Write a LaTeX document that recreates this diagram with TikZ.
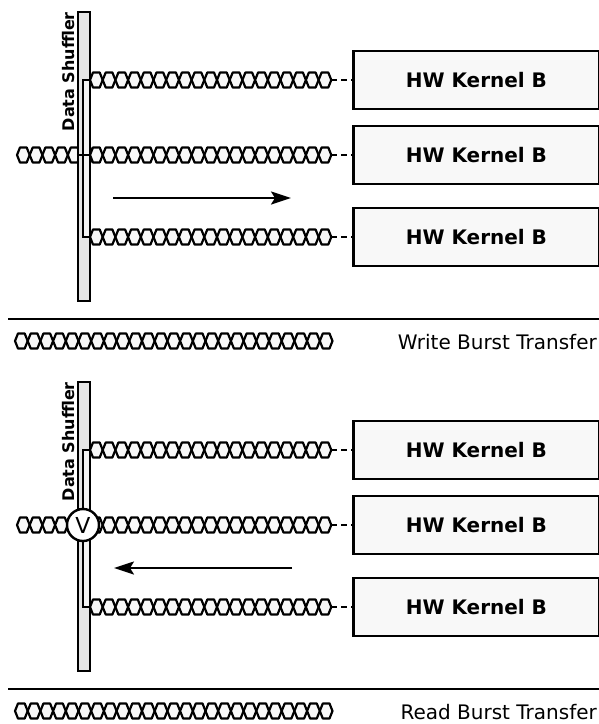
\documentclass[tikz,border=0pt]{standalone}
\usepackage{fontspec}
\setmainfont{DejaVu Sans}
\usetikzlibrary{arrows.meta}

\definecolor{cellfill}{HTML}{F8F8F8}
\definecolor{barfill}{HTML}{E6E6E6}

\tikzset{
  hexcell/.style={draw=black, fill=cellfill, line width=2.2pt, line join=round},
  shufbar/.style={draw=black, fill=barfill, line width=2.5pt, minimum width=12pt, minimum height=289pt, inner sep=0pt},
  portline/.style={draw=black, fill=white!60!barfill, line width=1.4pt},
  kernel/.style={draw=black, fill=cellfill, line width=2.8pt, minimum width=246pt, minimum height=58pt,
                 font=\bfseries\fontsize{20}{24}\selectfont},
  link/.style={line width=2.4pt, dash pattern=on 6pt off 4pt},
  flow/.style={line width=2.2pt, -{Stealth[length=20pt, width=13pt, inset=4pt]}},
  sepline/.style={line width=2.8pt},
  legend/.style={font=\fontsize{20}{24}\selectfont, inner sep=0pt, anchor=base east},
  shuflabel/.style={font=\bfseries\fontsize{16}{19}\selectfont, inner sep=0pt, rotate=90, anchor=east},
  orgate/.style={circle, draw=black, fill=white, line width=2.4pt, minimum size=32pt, inner sep=0pt,
                 font=\fontsize{22}{24}\selectfont}
}

% hexagon chain: #1 start x, #2 row y, #3 number of cells, #4 name of end coordinate
\newcommand{\hexchain}[4]{%
  \foreach \k in {1,...,#3} {
    \pgfmathsetmacro{\xa}{#1 + (\k-1)*\HexW}
    \draw[hexcell] (\xa,#2) -- ({\xa+\HexTip},{#2-\HexH/2}) -- ({\xa+\HexW-\HexTip},{#2-\HexH/2})
      -- ({\xa+\HexW},#2) -- ({\xa+\HexW-\HexTip},{#2+\HexH/2}) -- ({\xa+\HexTip},{#2+\HexH/2}) -- cycle;
  }
  \coordinate (#4) at ({#1 + #3*\HexW}, #2);
}

\begin{document}
\begin{tikzpicture}[x=1pt, y=-1pt]

  % =======================================================
  % PARAMETERS
  % =======================================================
  \def\HexW{12.7}   % pitch of one burst cell
  \def\HexH{15}     % height of one burst cell
  \def\HexTip{3}    % depth of the pointed ends
  \def\RowA{80}     % kernel rows
  \def\RowB{155}
  \def\RowC{237}

  \useasboundingbox (0,0) rectangle (599,724);

  % =======================================================
  % 1. Write Burst
  % =======================================================
  \begin{scope}
      % incoming burst, behind the shuffler
      \hexchain{17}{\RowB}{6}{wleft}

      \node[shufbar] (wbar) at (84,156.5) {};
      \node[shuflabel] (wlabel) at (68.5,12) {Data Shuffler};
      \draw[portline] (83,\RowA) rectangle (90,\RowC);
      \draw[line width=1.8pt] (wbar.west |- wleft) -- (wbar.east |- wleft);

      % kernels
      \node[kernel, anchor=west] (kw1) at (352,\RowA) {HW Kernel B};
      \node[kernel, anchor=west] (kw2) at (352,\RowB) {HW Kernel B};
      \node[kernel, anchor=west] (kw3) at (352,\RowC) {HW Kernel B};

      % bursts towards the kernels
      \hexchain{90}{\RowA}{19}{w1end}
      \hexchain{90}{\RowB}{19}{w2end}
      \hexchain{90}{\RowC}{19}{w3end}
      \draw[link] (w1end) -- (kw1.west);
      \draw[link] (w2end) -- (kw2.west);
      \draw[link] (w3end) -- (kw3.west);

      \coordinate (wfrom) at (113,198);
      \coordinate (wto) at (291,198);
      \draw[flow] (wfrom) -- (wto);

      % legend
      \draw[sepline] (8,319) -- (599,319);
      \hexchain{15}{341}{25}{wleg}
      \node[legend] (wtext) at (597,349) {Write Burst Transfer};
  \end{scope}

  % =======================================================
  % 2. Read Burst
  % =======================================================
  \begin{scope}[shift={(0,370)}]
      \hexchain{17}{\RowB}{6}{rleft}

      \node[shufbar] (rbar) at (84,156.5) {};
      \node[shuflabel] (rlabel) at (68.5,12) {Data Shuffler};
      \draw[portline] (83,\RowA) rectangle (90,\RowC);

      \node[kernel, anchor=west] (kr1) at (352,\RowA) {HW Kernel B};
      \node[kernel, anchor=west] (kr2) at (352,\RowB) {HW Kernel B};
      \node[kernel, anchor=west] (kr3) at (352,\RowC) {HW Kernel B};

      \hexchain{90}{\RowA}{19}{r1end}
      \hexchain{90}{\RowB}{19}{r2end}
      \hexchain{90}{\RowC}{19}{r3end}
      \draw[link] (r1end) -- (kr1.west);
      \draw[link] (r2end) -- (kr2.west);
      \draw[link] (r3end) -- (kr3.west);

      % merge of the read data
      \node[orgate] (rgate) at (83,\RowB) {V};

      \coordinate (rfrom) at (292,198);
      \coordinate (rto) at (114,198);
      \draw[flow] (rfrom) -- (rto);

      % legend
      \draw[sepline] (8,319) -- (599,319);
      \hexchain{15}{341}{25}{rleg}
      \node[legend] (rtext) at (597,349) {Read Burst Transfer};
  \end{scope}

\end{tikzpicture}
\end{document}
